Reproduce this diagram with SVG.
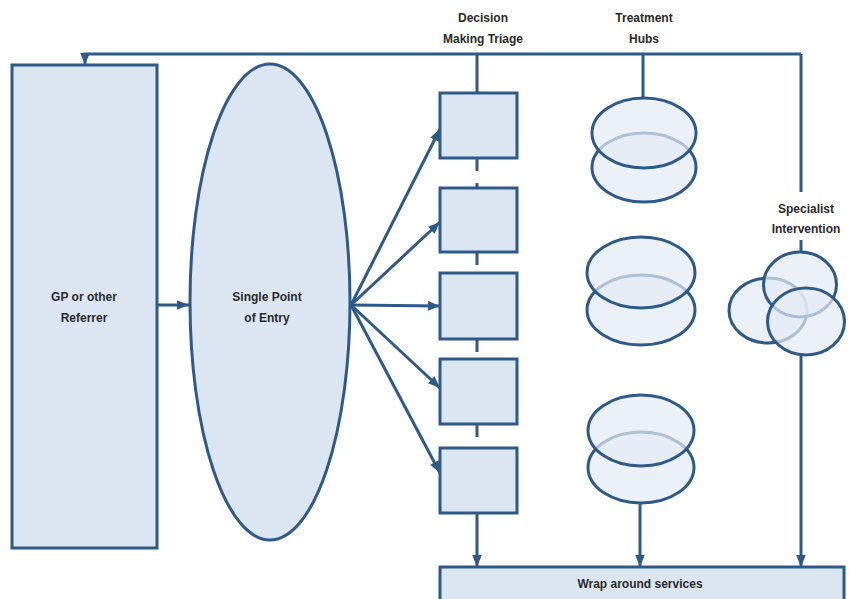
<svg xmlns="http://www.w3.org/2000/svg" width="850" height="599" viewBox="0 0 850 599">
<defs>
<marker id="ah" viewBox="0 0 10 10" refX="10" refY="5" markerWidth="4" markerHeight="4" orient="auto" markerUnits="strokeWidth">
<path d="M0,1 L10,5 L0,9 z" fill="#2E5A8A"/>
</marker>
<style>
.box{fill:#DCE6F2;stroke:#2E5A8A;stroke-width:3}
.ell{fill:#DCE6F2;stroke:#2E5A8A;stroke-width:3}
.hub{fill:#E4EBF5;fill-opacity:0.7;stroke:#2E5A8A;stroke-width:3}
.ln{fill:none;stroke:#2E5A8A;stroke-width:3}
.arr{fill:none;stroke:#2E5A8A;stroke-width:3;marker-end:url(#ah)}
.t{font-family:"Liberation Sans",Arial,sans-serif;font-size:12px;font-weight:bold;fill:#2a2a2a;text-anchor:middle}
</style>
</defs>
<rect width="850" height="599" fill="#ffffff"/>

<g id="connectors">
<path class="arr" d="M801,54 L85,54 L85,65"/>
<path class="ln" d="M801,54 L801,192"/>
<path class="ln" d="M801,240 L801,252"/>
<path class="arr" d="M801,355 L801,567"/>
<path class="ln" d="M477,54 L477,93"/>
<path class="ln" d="M643,54 L643,98"/>
<path class="arr" d="M157,305 L189,305"/>
<path class="arr" d="M351,305 L440,129"/>
<path class="arr" d="M351,305 L440,222"/>
<path class="arr" d="M351,305 L440,306"/>
<path class="arr" d="M351,305 L440,388"/>
<path class="arr" d="M351,305 L440,473"/>
<path class="ln" d="M477,158 L477,171 M477,183 L477,188 M477,252 L477,265 M477,339 L477,352 M477,424 L477,437"/>
<path class="arr" d="M477,513 L477,567"/>
<path class="arr" d="M640,503 L640,567"/>
</g>

<g id="gp">
<rect class="box" x="12" y="65" width="145" height="483"/>
<text class="t" x="84" y="301">GP  or other</text>
<text class="t" x="84" y="322">Referrer</text>
</g>

<g id="spe">
<ellipse class="ell" cx="270" cy="302" rx="80" ry="238"/>
<text class="t" x="267" y="301">Single Point</text>
<text class="t" x="267" y="322">of Entry</text>
</g>

<g id="triage-label">
<text class="t" x="483" y="22">Decision</text>
<text class="t" x="483" y="43">Making Triage</text>
</g>
<g id="triage1"><rect class="box" x="440" y="93" width="77" height="65"/></g>
<g id="triage2"><rect class="box" x="440" y="188" width="77" height="64"/></g>
<g id="triage3"><rect class="box" x="440" y="273" width="77" height="66"/></g>
<g id="triage4"><rect class="box" x="440" y="359" width="77" height="65"/></g>
<g id="triage5"><rect class="box" x="440" y="448" width="77" height="65"/></g>

<g id="hubs-label">
<text class="t" x="644" y="22">Treatment</text>
<text class="t" x="644" y="43">Hubs</text>
</g>
<g id="hub1">
<ellipse class="hub" cx="644" cy="167.5" rx="52" ry="34.5"/>
<ellipse class="hub" cx="644" cy="133" rx="52" ry="35"/>
</g>
<g id="hub2">
<ellipse class="hub" cx="641" cy="310" rx="54" ry="35"/>
<ellipse class="hub" cx="641" cy="272.5" rx="54" ry="35.5"/>
</g>
<g id="hub3">
<ellipse class="hub" cx="641" cy="467.5" rx="53" ry="35.5"/>
<ellipse class="hub" cx="641" cy="430.5" rx="53" ry="35.5"/>
</g>

<g id="specialist">
<text class="t" x="806" y="213">Specialist</text>
<text class="t" x="806" y="233">Intervention</text>
<ellipse class="hub" cx="768" cy="310.5" rx="39" ry="32.5"/>
<ellipse class="hub" cx="800" cy="284.5" rx="36.5" ry="32.5"/>
<ellipse class="hub" cx="806" cy="321.5" rx="38.5" ry="33.5"/>
</g>

<g id="wrap">
<rect class="box" x="440" y="567" width="404" height="36"/>
<text class="t" x="640" y="588">Wrap around services</text>
</g>
</svg>
